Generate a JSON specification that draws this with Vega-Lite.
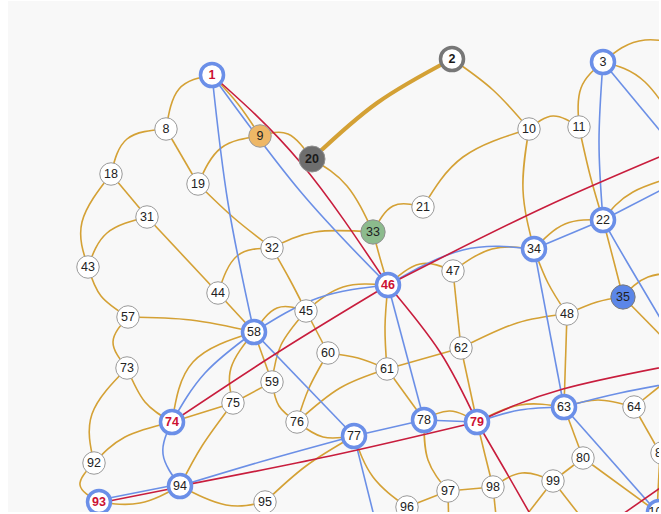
{
"$schema":"https://vega.github.io/schema/vega-lite/v6.json",
"width":651,"height":511,"autosize":"none",
"padding":{"left":8,"top":1,"right":2,"bottom":2},
"background":"white",
"config":{"view":{"fill":"#f8f8f8","stroke":null}},
"datasets":{
"edges":[
{"e":"E1","t":"g","x":[212,179,166],"y":[75,89,129]},
{"e":"E2","t":"g","x":[212,238,260],"y":[75,104,136]},
{"e":"E3","t":"g","x":[166,127,111],"y":[129,139,174]},
{"e":"E4","t":"g","x":[166,198],"y":[129,184]},
{"e":"E5","t":"g","x":[111,147],"y":[174,217]},
{"e":"E6","t":"g","x":[111,82,88],"y":[174,222,267]},
{"e":"E7","t":"g","x":[147,107,88],"y":[217,233,267]},
{"e":"E8","t":"g","x":[147,218],"y":[217,293]},
{"e":"E9","t":"g","x":[198,221,260],"y":[184,148,136]},
{"e":"E10","t":"g","x":[198,234,272],"y":[184,218,248]},
{"e":"E11","t":"g","x":[260,288,312],"y":[136,134,159]},
{"e":"E12","t":"g","x":[312,347,373],"y":[159,186,232]},
{"e":"E13","t":"g","x":[272,315,373],"y":[248,232,232]},
{"e":"E14","t":"g","x":[373,393,423],"y":[232,206,207]},
{"e":"E15","t":"g","x":[373,380,388],"y":[232,258,285]},
{"e":"E16","t":"g","x":[452,493,529],"y":[59,90,129]},
{"e":"E17","t":"g","x":[529,553,579],"y":[129,116,127]},
{"e":"E18","t":"g","x":[529,463,423],"y":[129,157,207]},
{"e":"E19","t":"g","x":[529,523,534],"y":[129,190,249]},
{"e":"E20","t":"g","x":[579,581,603],"y":[127,88,62]},
{"e":"E21","t":"g","x":[579,590,603],"y":[127,175,220]},
{"e":"E22","t":"g","x":[603,645,710],"y":[62,40,52]},
{"e":"E23","t":"g","x":[603,645,685],"y":[62,82,140]},
{"e":"E24","t":"g","x":[603,565,534],"y":[220,224,249]},
{"e":"E25","t":"g","x":[603,633,690],"y":[220,192,172]},
{"e":"E26","t":"g","x":[603,614,623],"y":[220,262,297]},
{"e":"E27","t":"g","x":[623,597,567],"y":[297,302,314]},
{"e":"E28","t":"g","x":[623,648,690],"y":[297,277,272]},
{"e":"E29","t":"g","x":[623,680],"y":[297,355]},
{"e":"E30","t":"g","x":[534,492,453],"y":[249,249,271]},
{"e":"E31","t":"g","x":[534,548,567],"y":[249,283,314]},
{"e":"E32","t":"g","x":[388,420,453],"y":[285,264,271]},
{"e":"E33","t":"g","x":[453,461],"y":[271,348]},
{"e":"E34","t":"g","x":[388,385,387],"y":[285,327,369]},
{"e":"E35","t":"g","x":[306,343,388],"y":[311,287,285]},
{"e":"E36","t":"g","x":[254,277,306],"y":[332,308,311]},
{"e":"E37","t":"g","x":[272,290,306],"y":[248,280,311]},
{"e":"E38","t":"g","x":[272,237,218],"y":[248,256,293]},
{"e":"E39","t":"g","x":[218,254],"y":[293,332]},
{"e":"E40","t":"g","x":[88,101,128],"y":[267,296,317]},
{"e":"E41","t":"g","x":[128,191,254],"y":[317,320,332]},
{"e":"E42","t":"g","x":[128,113,127],"y":[317,342,368]},
{"e":"E43","t":"g","x":[127,145,172],"y":[368,402,422]},
{"e":"E44","t":"g","x":[127,92,94],"y":[368,414,463]},
{"e":"E45","t":"g","x":[172,125,94],"y":[422,437,463]},
{"e":"E46","t":"g","x":[94,80,99],"y":[463,485,502]},
{"e":"E47","t":"g","x":[99,140,180],"y":[502,503,486]},
{"e":"E48","t":"g","x":[172,193,254],"y":[422,362,332]},
{"e":"E49","t":"g","x":[172,233],"y":[422,403]},
{"e":"E50","t":"g","x":[233,272],"y":[403,382]},
{"e":"E51","t":"g","x":[233,231,254],"y":[403,368,332]},
{"e":"E52","t":"g","x":[233,202,180],"y":[403,446,486]},
{"e":"E53","t":"g","x":[254,272],"y":[332,382]},
{"e":"E54","t":"g","x":[306,281,272],"y":[311,345,382]},
{"e":"E55","t":"g","x":[306,328],"y":[311,353]},
{"e":"E56","t":"g","x":[272,279,297],"y":[382,406,422]},
{"e":"E57","t":"g","x":[328,309,297],"y":[353,388,422]},
{"e":"E58","t":"g","x":[328,358,387],"y":[353,358,369]},
{"e":"E59","t":"g","x":[297,340,387],"y":[422,388,369]},
{"e":"E60","t":"g","x":[297,323,354],"y":[422,437,436]},
{"e":"E61","t":"g","x":[354,306,265],"y":[436,466,502]},
{"e":"E62","t":"g","x":[180,226,265],"y":[486,505,502]},
{"e":"E63","t":"g","x":[387,424],"y":[369,420]},
{"e":"E64","t":"g","x":[387,461],"y":[369,348]},
{"e":"E65","t":"g","x":[461,477],"y":[348,422]},
{"e":"E66","t":"g","x":[461,517,567],"y":[348,323,314]},
{"e":"E67","t":"g","x":[567,564],"y":[314,407]},
{"e":"E68","t":"g","x":[564,520,477],"y":[407,405,422]},
{"e":"E69","t":"g","x":[564,598,634],"y":[407,400,407]},
{"e":"E70","t":"g","x":[634,680],"y":[407,370]},
{"e":"E71","t":"g","x":[634,660],"y":[407,453]},
{"e":"E72","t":"g","x":[660,657],"y":[453,512]},
{"e":"E73","t":"g","x":[564,583],"y":[407,458]},
{"e":"E74","t":"g","x":[583,553],"y":[458,481]},
{"e":"E75","t":"g","x":[583,657],"y":[458,512]},
{"e":"E76","t":"g","x":[493,522,553],"y":[487,473,481]},
{"e":"E77","t":"g","x":[553,518],"y":[481,526]},
{"e":"E78","t":"g","x":[553,595],"y":[481,535]},
{"e":"E79","t":"g","x":[493,498],"y":[487,535]},
{"e":"E80","t":"g","x":[477,485,493],"y":[422,455,487]},
{"e":"E81","t":"g","x":[448,493],"y":[491,487]},
{"e":"E82","t":"g","x":[448,449],"y":[491,535]},
{"e":"E83","t":"g","x":[407,448],"y":[507,491]},
{"e":"E84","t":"g","x":[424,428,448],"y":[420,460,491]},
{"e":"E85","t":"g","x":[354,373,407],"y":[436,477,507]},
{"e":"E86","t":"g","x":[424,450,477],"y":[420,411,422]},
{"e":"W1","t":"w","x":[312,377,452],"y":[159,103,59]},
{"e":"B1","t":"b","x":[212,228,254],"y":[75,203,332]},
{"e":"B2","t":"b","x":[212,300,388],"y":[75,191,285]},
{"e":"B3","t":"b","x":[603,599,603],"y":[62,142,220]},
{"e":"B4","t":"b","x":[603,690],"y":[62,167]},
{"e":"B5","t":"b","x":[603,534],"y":[220,249]},
{"e":"B6","t":"b","x":[603,700],"y":[220,170]},
{"e":"B7","t":"b","x":[603,627,685],"y":[220,262,360]},
{"e":"B8","t":"b","x":[534,463,388],"y":[249,250,285]},
{"e":"B9","t":"b","x":[534,564],"y":[249,407]},
{"e":"B10","t":"b","x":[388,318,254],"y":[285,298,332]},
{"e":"B11","t":"b","x":[388,424],"y":[285,420]},
{"e":"B12","t":"b","x":[254,205,172],"y":[332,373,422]},
{"e":"B13","t":"b","x":[254,354],"y":[332,436]},
{"e":"B14","t":"b","x":[172,163,180],"y":[422,454,486]},
{"e":"B15","t":"b","x":[99,180],"y":[500,484]},
{"e":"B16","t":"b","x":[180,267,354],"y":[486,460,436]},
{"e":"B17","t":"b","x":[354,424],"y":[436,420]},
{"e":"B18","t":"b","x":[424,477],"y":[420,422]},
{"e":"B19","t":"b","x":[477,520,564],"y":[422,410,407]},
{"e":"B20","t":"b","x":[564,620,700],"y":[407,393,378]},
{"e":"B21","t":"b","x":[564,657],"y":[407,512]},
{"e":"B22","t":"b","x":[354,380],"y":[436,540]},
{"e":"R1","t":"r","x":[212,300,388],"y":[75,162,285]},
{"e":"R2","t":"r","x":[388,440,477],"y":[285,352,422]},
{"e":"R3","t":"r","x":[477,505,545],"y":[422,470,540]},
{"e":"R4","t":"r","x":[388,545,700],"y":[285,207,140]},
{"e":"R5","t":"r","x":[172,280,388],"y":[422,351,285]},
{"e":"R6","t":"r","x":[180,330,477],"y":[486,456,422]},
{"e":"R7","t":"r","x":[477,563,700],"y":[422,389,360]},
{"e":"R8","t":"r","x":[99,180],"y":[503,487]},
{"e":"R9","t":"r","x":[600,700],"y":[530,460]}
],
"nodes":[
{"id":"1","x":212,"y":75,"g":"s"},
{"id":"2","x":452,"y":59,"g":"a"},
{"id":"3","x":603,"y":62,"g":"h"},
{"id":"8","x":166,"y":129,"g":"n"},
{"id":"9","x":260,"y":136,"g":"o"},
{"id":"10","x":529,"y":129,"g":"n"},
{"id":"11","x":579,"y":127,"g":"n"},
{"id":"18","x":111,"y":174,"g":"n"},
{"id":"19","x":198,"y":184,"g":"n"},
{"id":"20","x":312,"y":159,"g":"b"},
{"id":"21","x":423,"y":207,"g":"n"},
{"id":"22","x":603,"y":220,"g":"h"},
{"id":"31","x":147,"y":217,"g":"n"},
{"id":"32","x":272,"y":248,"g":"n"},
{"id":"33","x":373,"y":232,"g":"m"},
{"id":"34","x":534,"y":249,"g":"h"},
{"id":"35","x":623,"y":297,"g":"c"},
{"id":"43","x":88,"y":267,"g":"n"},
{"id":"44","x":218,"y":293,"g":"n"},
{"id":"45","x":306,"y":311,"g":"n"},
{"id":"46","x":388,"y":285,"g":"s"},
{"id":"47","x":453,"y":271,"g":"n"},
{"id":"48","x":567,"y":314,"g":"n"},
{"id":"57","x":128,"y":317,"g":"n"},
{"id":"58","x":254,"y":332,"g":"h"},
{"id":"59","x":272,"y":382,"g":"n"},
{"id":"60","x":328,"y":353,"g":"n"},
{"id":"61","x":387,"y":369,"g":"n"},
{"id":"62","x":461,"y":348,"g":"n"},
{"id":"63","x":564,"y":407,"g":"h"},
{"id":"64","x":634,"y":407,"g":"n"},
{"id":"73","x":127,"y":368,"g":"n"},
{"id":"74","x":172,"y":422,"g":"s"},
{"id":"75","x":233,"y":403,"g":"n"},
{"id":"76","x":297,"y":422,"g":"n"},
{"id":"77","x":354,"y":436,"g":"h"},
{"id":"78","x":424,"y":420,"g":"h"},
{"id":"79","x":477,"y":422,"g":"s"},
{"id":"80","x":583,"y":458,"g":"n"},
{"id":"81","x":662,"y":453,"g":"n"},
{"id":"92","x":94,"y":463,"g":"n"},
{"id":"93","x":99,"y":502,"g":"s"},
{"id":"94","x":180,"y":486,"g":"h"},
{"id":"95","x":265,"y":502,"g":"n"},
{"id":"96","x":407,"y":507,"g":"n"},
{"id":"97","x":448,"y":491,"g":"n"},
{"id":"98","x":493,"y":487,"g":"n"},
{"id":"99","x":553,"y":481,"g":"n"},
{"id":"100","x":659,"y":512,"g":"h"},
{"id":"","x":518,"y":526,"g":"n"}
]
},
"layer":[
{"data":{"name":"edges"},
 "transform":[{"flatten":["x","y"]}],
 "mark":{"type":"line","interpolate":"natural","clip":true},
 "encoding":{
  "x":{"field":"x","type":"quantitative","scale":{"domain":[8,659],"nice":false,"zero":false},"axis":null},
  "y":{"field":"y","type":"quantitative","scale":{"domain":[1,512],"nice":false,"zero":false,"reverse":true},"axis":null},
  "detail":{"field":"e"},
  "order":{"value":null},
  "color":{"field":"t","type":"nominal","scale":{"domain":["g","w","b","r"],"range":["#d4a135","#d4a135","#6b8fe6","#c81d3d"]},"legend":null},
  "strokeWidth":{"condition":{"test":"datum.t === 'w'","value":4},"value":1.6}
 }},
{"data":{"name":"nodes"},
 "mark":{"type":"circle","opacity":1,"fillOpacity":1,"strokeOpacity":1,"clip":true},
 "encoding":{
  "x":{"field":"x","type":"quantitative"},
  "y":{"field":"y","type":"quantitative"},
  "fill":{"field":"g","type":"nominal","scale":{"domain":["n","h","s","a","b","o","m","c"],"range":["#ffffff","#ffffff","#ffffff","#ffffff","#6e6e6e","#eeb766","#8cbb8d","#5b86e8"]},"legend":null},
  "stroke":{"field":"g","type":"nominal","scale":{"domain":["n","h","s","a","b","o","m","c"],"range":["#9a9a9a","#6b8fe8","#6b8fe8","#777777","#8f8f8f","#9a9a9a","#8f8f8f","#7a7a7a"]},"legend":null},
  "strokeWidth":{"condition":{"test":"datum.g === 'h' || datum.g === 's' || datum.g === 'a'","value":3.5},"value":1},
  "size":{"condition":[{"test":"datum.g === 'b'","value":676},{"test":"datum.g === 'm' || datum.g === 'c'","value":590},{"test":"datum.g === 'h' || datum.g === 's' || datum.g === 'a'","value":530}],"value":506}
 }},
{"data":{"name":"nodes"},
 "transform":[{"filter":"datum.g !== 'a' && datum.g !== 'b' && datum.g !== 's'"}],
 "mark":{"type":"text","font":"Liberation Sans","fontSize":12.5,"baseline":"middle","align":"center","clip":true},
 "encoding":{
  "x":{"field":"x","type":"quantitative"},
  "y":{"field":"y","type":"quantitative"},
  "text":{"field":"id"},
  "color":{"value":"#222222"}
 }},
{"data":{"name":"nodes"},
 "transform":[{"filter":"datum.g === 'a' || datum.g === 'b' || datum.g === 's'"}],
 "mark":{"type":"text","font":"Liberation Sans","fontSize":12.5,"fontWeight":"bold","baseline":"middle","align":"center","clip":true},
 "encoding":{
  "x":{"field":"x","type":"quantitative"},
  "y":{"field":"y","type":"quantitative"},
  "text":{"field":"id"},
  "color":{"condition":{"test":"datum.g === 's'","value":"#cc1133"},"value":"#1a1a1a"}
 }}
]
}
